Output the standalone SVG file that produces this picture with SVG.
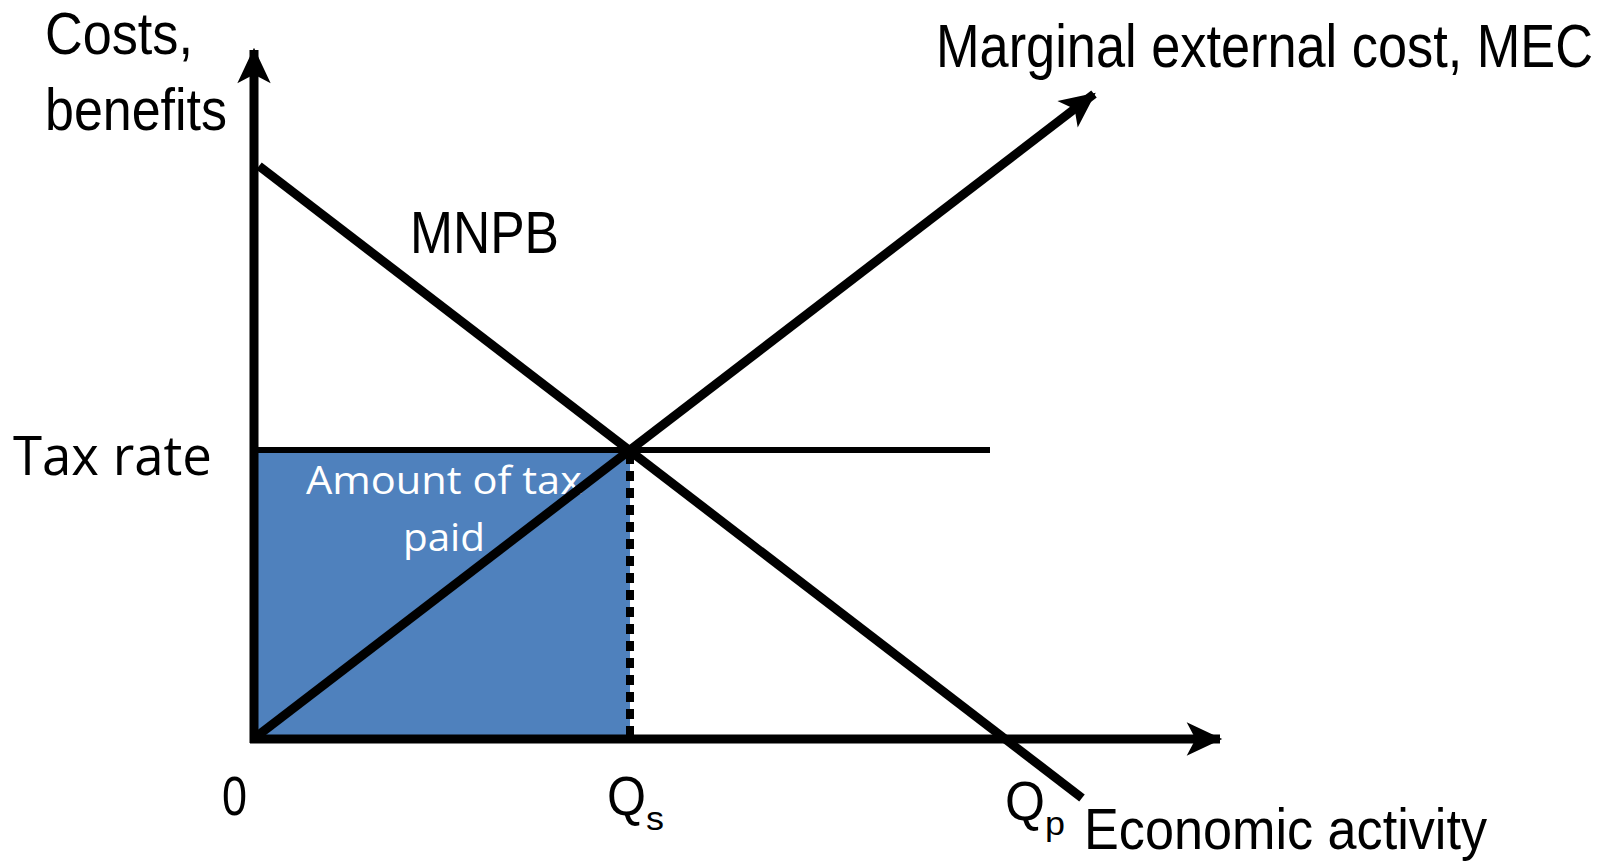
<svg xmlns="http://www.w3.org/2000/svg" width="1608" height="864" viewBox="0 0 1608 864">
<style>
.lbl{font-family:"Liberation Sans",Arial,sans-serif;fill:#000}
.cal{font-family:"Open Sans","Liberation Sans",sans-serif}
.ln{stroke:#000;stroke-width:9;fill:none}
</style>
<defs>
<marker id="ah" markerUnits="userSpaceOnUse" markerWidth="40" markerHeight="40" viewBox="-32 -16 36 32" refX="0" refY="0" orient="auto">
<path d="M2,0 L-30,-15 L-22,0 L-30,15 Z" fill="#000"/>
</marker>
</defs>
<rect width="1608" height="864" fill="#fff"/>
<g id="area">
<rect x="254" y="450" width="376" height="289" fill="#4F81BD"/>
<text class="cal" x="306" y="494" font-size="39" fill="#fff" textLength="276" lengthAdjust="spacingAndGlyphs">Amount of tax</text>
<text class="cal" x="403" y="551" font-size="39" fill="#fff" textLength="82" lengthAdjust="spacingAndGlyphs">paid</text>
</g>
<g id="connectors">
<line class="ln" x1="254" y1="743" x2="254" y2="50" marker-end="url(#ah)"/>
<line class="ln" x1="250" y1="739" x2="1220" y2="739" marker-end="url(#ah)"/>
<line class="ln" x1="256" y1="737" x2="1094" y2="94" marker-end="url(#ah)"/>
<line class="ln" x1="259" y1="166" x2="1082" y2="798"/>
<line x1="254" y1="450" x2="990" y2="450" stroke="#000" stroke-width="6"/>
<line x1="630" y1="454" x2="630" y2="736" stroke="#000" stroke-width="8" stroke-dasharray="10 7"/>
</g>
<g id="labels">
<text class="lbl" x="45" y="54" font-size="60" textLength="148" lengthAdjust="spacingAndGlyphs">Costs,</text>
<text class="lbl" x="45" y="130" font-size="60" textLength="182" lengthAdjust="spacingAndGlyphs">benefits</text>
<text class="lbl" x="410" y="253" font-size="60" textLength="149" lengthAdjust="spacingAndGlyphs">MNPB</text>
<text class="lbl" x="936" y="67" font-size="62" textLength="657" lengthAdjust="spacingAndGlyphs">Marginal external cost, MEC</text>
<text class="cal" x="13" y="475" font-size="55" textLength="199" lengthAdjust="spacingAndGlyphs">Tax rate</text>
<text class="lbl" x="222" y="815" font-size="55" textLength="25" lengthAdjust="spacingAndGlyphs">0</text>
<text class="lbl" x="607" y="815" font-size="55" textLength="39" lengthAdjust="spacingAndGlyphs">Q</text>
<text class="lbl" x="646" y="830" font-size="34" textLength="18" lengthAdjust="spacingAndGlyphs">s</text>
<text class="lbl" x="1005" y="820" font-size="55" textLength="40" lengthAdjust="spacingAndGlyphs">Q</text>
<text class="lbl" x="1045" y="835" font-size="34" textLength="20" lengthAdjust="spacingAndGlyphs">p</text>
<text class="lbl" x="1084" y="849" font-size="58" textLength="403" lengthAdjust="spacingAndGlyphs">Economic activity</text>
</g>
</svg>
